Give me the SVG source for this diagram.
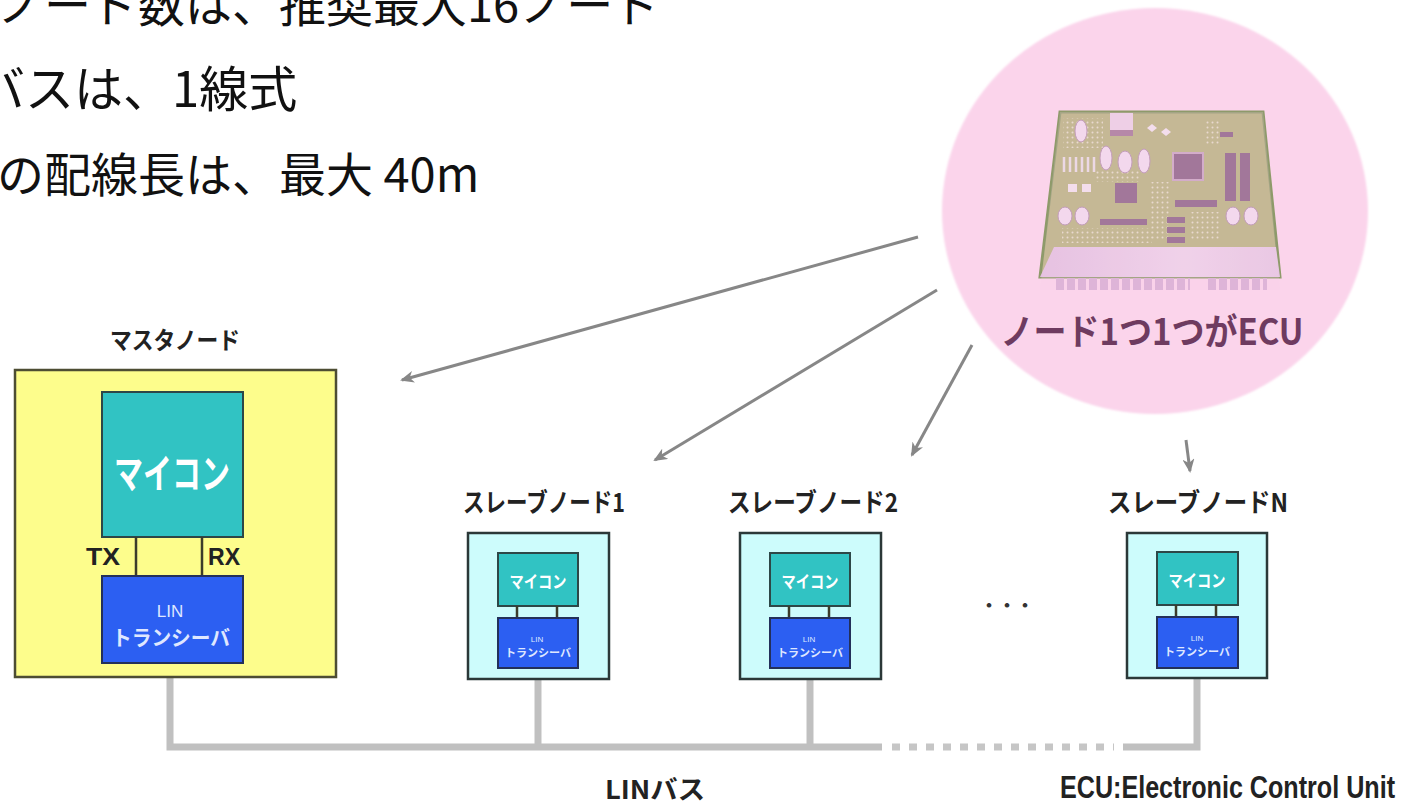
<svg xmlns="http://www.w3.org/2000/svg" width="1405" height="806" viewBox="0 0 1405 806">
  <defs>
    <style>
      .jp { font-family: "Noto Sans CJK JP", "Noto Sans", sans-serif; }
      .lat { font-family: "Liberation Sans", Arial, sans-serif; }
      .intro { font-size: 47px; fill: #111; }
      .caption { font-weight: bold; fill: #222; }
      .master-box { fill: #fdfd8c; stroke: #4d4d33; stroke-width: 2.5; }
      .slave-box { fill: #cdfcfc; stroke: #2b3838; stroke-width: 2.5; }
      .mcu { fill: #31c3c3; stroke: #2d4747; stroke-width: 2; }
      .xcvr { fill: #2c5ff2; stroke: #23305a; stroke-width: 2; }
      .wire { stroke: #3c3c2a; stroke-width: 2.5; fill: none; }
      .white { fill: #ffffff; }
      .pale { fill: #dfe7ff; }
      .bus { stroke: #c0c0c0; stroke-width: 7; fill: none; stroke-linejoin: miter; }
      .bus-gap { stroke: #c6c6c6; stroke-width: 7; fill: none; stroke-dasharray: 8 9; }
      .arrow { stroke: #878787; stroke-width: 3; fill: none; marker-end: url(#ah); }
      .chip { fill: #8b5f84; }
      .cap { fill: #f3dcef; stroke: #b58fae; stroke-width: 1; }
    </style>
    <marker id="ah" viewBox="0 0 14 12" refX="12" refY="6" markerWidth="14" markerHeight="12" markerUnits="userSpaceOnUse" orient="auto">
      <path d="M0,0 L14,6 L0,12 L4,6 z" fill="#878787"/>
    </marker>
    <filter id="soft" x="-5%" y="-5%" width="110%" height="110%">
      <feGaussianBlur stdDeviation="1.2"/>
    </filter>
    <pattern id="pcbdots" width="5" height="5" patternUnits="userSpaceOnUse">
      <circle cx="2.5" cy="2.5" r="1" fill="#e6dcc8"/>
    </pattern>
    <linearGradient id="edgeband" x1="0" y1="0" x2="1" y2="0">
      <stop offset="0" stop-color="#e2bfe0"/>
      <stop offset="0.6" stop-color="#efd3ea"/>
      <stop offset="1" stop-color="#e6c6e2"/>
    </linearGradient>
  </defs>

  <!-- heading lines -->
  <g id="intro-text" class="jp intro">
    <text x="-3" y="22">ノード数は、推奨最大16ノード</text>
    <text x="-24" y="107" font-size="49">バスは、1線式</text>
    <text x="-3" y="192">の配線長は、最大 40m</text>
  </g>

  <!-- ECU callout: pink disc with a circuit board -->
  <g id="ecu-callout">
    <ellipse cx="1155" cy="211" rx="213" ry="203" fill="#fbd4eb" filter="url(#soft)"/>
    <g id="pcb">
      <polygon points="1060,112 1263,112 1280,277 1040,277" fill="#b8b37e" stroke="#8e9a6a" stroke-width="3"/>
      <rect x="1063" y="118" width="40" height="30" fill="url(#pcbdots)"/>
      <rect x="1095" y="170" width="45" height="12" fill="url(#pcbdots)"/>
      <rect x="1150" y="182" width="20" height="58" fill="url(#pcbdots)"/>
      <rect x="1062" y="228" width="90" height="15" fill="url(#pcbdots)"/>
      <rect x="1205" y="120" width="15" height="25" fill="url(#pcbdots)"/>
      <rect x="1190" y="212" width="30" height="28" fill="url(#pcbdots)"/>
      <polygon points="1054,247 1276,247 1280,277 1040,277" fill="url(#edgeband)"/>
      <rect x="1110" y="113" width="23" height="20" fill="#ecd0e6"/>
      <rect x="1110" y="130" width="23" height="6" fill="#a57596"/>
      <ellipse class="cap" cx="1081" cy="131" rx="6" ry="11"/>
      <ellipse class="cap" cx="1106" cy="158" rx="6" ry="12"/>
      <ellipse class="cap" cx="1125" cy="162" rx="7" ry="11"/>
      <ellipse class="cap" cx="1144" cy="161" rx="6" ry="12"/>
      <ellipse class="cap" cx="1065" cy="216" rx="7" ry="9"/>
      <ellipse class="cap" cx="1082" cy="216" rx="7" ry="9"/>
      <ellipse class="cap" cx="1233" cy="216" rx="7" ry="9"/>
      <ellipse class="cap" cx="1251" cy="216" rx="7" ry="9"/>
      <path d="M1152,124 l5,4 -5,4 -5,-4 z M1166,128 l5,4 -5,4 -5,-4 z" fill="#f2e2ee"/>
      <path d="M1064,157 v15 M1070,157 v15 M1076,157 v15 M1082,157 v15 M1088,157 v15 M1094,157 v15" stroke="#eadbe4" stroke-width="2.5"/>
      <rect x="1068" y="184" width="9" height="8" fill="#f2e2ee"/>
      <rect x="1082" y="184" width="9" height="8" fill="#f2e2ee"/>
      <rect x="1173" y="153" width="30" height="27" class="chip" stroke="#c9a3c2" stroke-width="2"/>
      <rect x="1115" y="183" width="22" height="20" class="chip"/>
      <rect x="1225" y="153" width="11" height="48" class="chip"/>
      <rect x="1240" y="153" width="10" height="48" class="chip"/>
      <rect x="1175" y="200" width="42" height="7" class="chip"/>
      <rect x="1100" y="219" width="47" height="6" class="chip"/>
      <rect x="1167" y="217" width="18" height="6" class="chip"/>
      <rect x="1167" y="227" width="18" height="6" class="chip"/>
      <rect x="1167" y="237" width="18" height="6" class="chip"/>
      <rect x="1220" y="132" width="13" height="5" class="chip"/>
      <path d="M1056,284 H1190 M1208,284 H1267" stroke="#d8aed4" stroke-width="12" stroke-dasharray="8 3"/>
      <!-- pink wash over the board -->
      <polygon points="1060,112 1263,112 1280,290 1040,290" fill="#f7cde8" opacity="0.22"/>
    </g>
    <text class="jp" x="1152" y="345" text-anchor="middle" font-size="36" font-weight="bold" fill="#6e3b60" textLength="303" lengthAdjust="spacingAndGlyphs">ノード1つ1つがECU</text>
  </g>

  <!-- callout arrows and LIN bus wiring -->
  <g id="connectors">
    <line class="arrow" x1="918" y1="237" x2="402" y2="380"/>
    <line class="arrow" x1="937" y1="290" x2="655" y2="460"/>
    <line class="arrow" x1="972" y1="345" x2="912" y2="455"/>
    <line class="arrow" x1="1186" y1="440" x2="1190" y2="471"/>
    <g id="lin-bus">
      <path class="bus" d="M170,663 V747 H882"/>
      <path class="bus" d="M538,668 V747"/>
      <path class="bus" d="M810,668 V747"/>
      <path class="bus-gap" d="M892,747 H1114"/>
      <path class="bus" d="M1123,747 H1197 V668"/>
    </g>
  </g>

  <!-- master node -->
  <g id="master-node">
    <text class="jp caption" x="175" y="349" text-anchor="middle" font-size="24" textLength="130" lengthAdjust="spacingAndGlyphs">マスタノード</text>
    <rect class="master-box" x="15" y="370" width="321" height="307"/>
    <rect class="mcu" x="102" y="392" width="141" height="145"/>
    <text class="jp white" x="172" y="488" text-anchor="middle" font-size="40" font-weight="bold" textLength="116" lengthAdjust="spacingAndGlyphs">マイコン</text>
    <path class="wire" d="M136,537 V576 M202,537 V576"/>
    <text class="lat caption" x="86" y="565" font-size="23" textLength="34" lengthAdjust="spacingAndGlyphs">TX</text>
    <text class="lat caption" x="208" y="565" font-size="23" textLength="32" lengthAdjust="spacingAndGlyphs">RX</text>
    <rect class="xcvr" x="102" y="576" width="141" height="87"/>
    <text class="lat pale" x="170" y="617" text-anchor="middle" font-size="17">LIN</text>
    <text class="jp pale" x="171" y="645" text-anchor="middle" font-size="21" font-weight="bold" textLength="118" lengthAdjust="spacingAndGlyphs">トランシーバ</text>
  </g>

  <!-- slave node 1 -->
  <g id="slave-node-1">
    <text class="jp caption" x="544" y="512" text-anchor="middle" font-size="26" textLength="162" lengthAdjust="spacingAndGlyphs">スレーブノード1</text>
    <g transform="translate(468,533)">
      <rect class="slave-box" x="0" y="0" width="141" height="146"/>
      <rect class="mcu" x="30" y="20" width="80" height="53"/>
      <text class="jp white" x="70" y="55" text-anchor="middle" font-size="17" font-weight="bold" textLength="57" lengthAdjust="spacingAndGlyphs">マイコン</text>
      <path class="wire" d="M49,73 V85 M89,73 V85"/>
      <rect class="xcvr" x="30" y="85" width="80" height="50"/>
      <text class="lat pale" x="69" y="109" text-anchor="middle" font-size="8">LIN</text>
      <text class="jp pale" x="70" y="124" text-anchor="middle" font-size="11" font-weight="bold" textLength="66" lengthAdjust="spacingAndGlyphs">トランシーバ</text>
    </g>
  </g>

  <!-- slave node 2 -->
  <g id="slave-node-2">
    <text class="jp caption" x="813" y="512" text-anchor="middle" font-size="26" textLength="170" lengthAdjust="spacingAndGlyphs">スレーブノード2</text>
    <g transform="translate(740,533)">
      <rect class="slave-box" x="0" y="0" width="141" height="146"/>
      <rect class="mcu" x="30" y="20" width="80" height="53"/>
      <text class="jp white" x="70" y="55" text-anchor="middle" font-size="17" font-weight="bold" textLength="57" lengthAdjust="spacingAndGlyphs">マイコン</text>
      <path class="wire" d="M49,73 V85 M89,73 V85"/>
      <rect class="xcvr" x="30" y="85" width="80" height="50"/>
      <text class="lat pale" x="69" y="109" text-anchor="middle" font-size="8">LIN</text>
      <text class="jp pale" x="70" y="124" text-anchor="middle" font-size="11" font-weight="bold" textLength="66" lengthAdjust="spacingAndGlyphs">トランシーバ</text>
    </g>
  </g>

  <!-- ellipsis between slave 2 and slave N -->
  <text id="more-nodes" class="jp" x="1007" y="612" text-anchor="middle" font-size="18" font-weight="bold" fill="#333">・・・</text>

  <!-- slave node N -->
  <g id="slave-node-n">
    <text class="jp caption" x="1198" y="512" text-anchor="middle" font-size="26" textLength="180" lengthAdjust="spacingAndGlyphs">スレーブノードN</text>
    <g transform="translate(1127,533)">
      <rect class="slave-box" x="0" y="0" width="140" height="145"/>
      <rect class="mcu" x="30" y="19" width="81" height="53"/>
      <text class="jp white" x="70" y="54" text-anchor="middle" font-size="17" font-weight="bold" textLength="57" lengthAdjust="spacingAndGlyphs">マイコン</text>
      <path class="wire" d="M49,72 V84 M89,72 V84"/>
      <rect class="xcvr" x="30" y="84" width="81" height="51"/>
      <text class="lat pale" x="70" y="108" text-anchor="middle" font-size="8">LIN</text>
      <text class="jp pale" x="70" y="123" text-anchor="middle" font-size="11" font-weight="bold" textLength="66" lengthAdjust="spacingAndGlyphs">トランシーバ</text>
    </g>
  </g>

  <!-- bus name and abbreviation note -->
  <text id="bus-label" class="jp caption" x="655" y="799" text-anchor="middle" font-size="26" fill="#2a2a2a" textLength="100" lengthAdjust="spacingAndGlyphs">LINバス</text>
  <text id="ecu-note" class="lat caption" x="1060" y="798" font-size="31" fill="#2a2a2a" textLength="335" lengthAdjust="spacingAndGlyphs">ECU:Electronic Control Unit</text>
</svg>
